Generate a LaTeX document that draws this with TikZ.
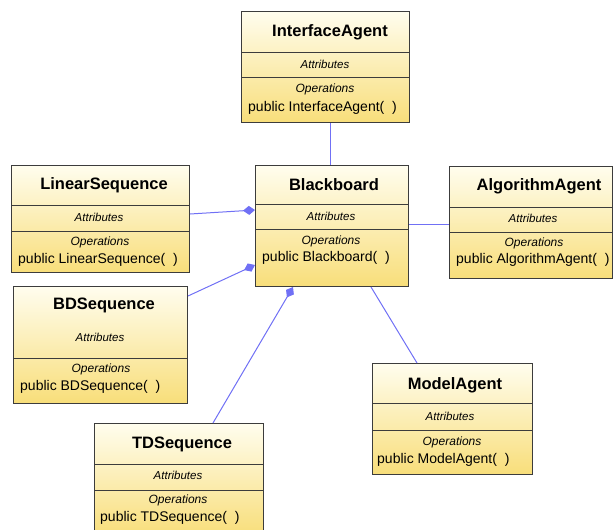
\documentclass[tikz,border=0pt]{standalone}
\usepackage{fontspec}
\setmainfont{Liberation Sans}
\usetikzlibrary{arrows.meta,calc}
\definecolor{lnk}{RGB}{112,112,245}
\definecolor{topc}{RGB}{255,253,238}
\definecolor{botc}{RGB}{248,222,122}
\definecolor{edge}{RGB}{60,60,60}
\tikzset{
  clsbox/.style={draw=edge, line width=1pt, top color=topc, bottom color=botc, inner sep=0pt, anchor=north west},
  divline/.style={draw=edge, line width=1pt},
  ttl/.style={font=\fontsize{16.5}{17}\selectfont\bfseries, inner sep=0pt},
  attr/.style={font=\fontsize{11.5}{12}\selectfont\itshape, inner sep=0pt},
  ops/.style={font=\fontsize{12}{12}\selectfont\itshape, inner sep=0pt},
  pub/.style={font=\fontsize{14}{14}\selectfont, inner sep=0pt, anchor=west},
  assoc/.style={draw=lnk, line width=1pt},
  agg/.style={assoc, -{Diamond[length=12pt,width=9pt,fill=lnk]}}
}
\begin{document}
\begin{tikzpicture}[x=1pt,y=-1pt]
\useasboundingbox (0,0) rectangle (613,530);
\clip (0,0) rectangle (613,530);
% InterfaceAgent
\node[clsbox, minimum width=168pt, minimum height=111pt] (ia) at (241,11) {};
\draw[divline] (ia.west |- 0,52) -- (ia.east |- 0,52);
\draw[divline] (ia.west |- 0,77) -- (ia.east |- 0,77);
\node[ttl] (iat) at (330,32) {InterfaceAgent};
\node[attr] (iaa) at (325,64) {Attributes};
\node[ops] (iao) at (325,89) {Operations};
\node[pub] (iap) at (248,108) {public InterfaceAgent(\ \ )};
% Blackboard
\node[clsbox, minimum width=153pt, minimum height=121pt] (bb) at (255,165) {};
\draw[divline] (bb.west |- 0,204) -- (bb.east |- 0,204);
\draw[divline] (bb.west |- 0,229) -- (bb.east |- 0,229);
\node[ttl] (bbt) at (334,185) {Blackboard};
\node[attr] (bba) at (331,216) {Attributes};
\node[ops] (bbo) at (331,241) {Operations};
\node[pub] (bbp) at (262,258) {public Blackboard(\ \ )};
% LinearSequence
\node[clsbox, minimum width=178pt, minimum height=107pt] (ls) at (11,165) {};
\draw[divline] (ls.west |- 0,205) -- (ls.east |- 0,205);
\draw[divline] (ls.west |- 0,231) -- (ls.east |- 0,231);
\node[ttl] (lst) at (104,185) {LinearSequence};
\node[attr] (lsa) at (99,217) {Attributes};
\node[ops] (lso) at (100,242) {Operations};
\node[pub] (lsp) at (18,260) {public LinearSequence(\ \ )};
% BDSequence
\node[clsbox, minimum width=174pt, minimum height=117pt] (bd) at (13,286) {};
\draw[divline] (bd.west |- 0,358) -- (bd.east |- 0,358);
\node[ttl] (bdt) at (104,305) {BDSequence};
\node[attr] (bda) at (100,337) {Attributes};
\node[ops] (bdo) at (101,369) {Operations};
\node[pub] (bdp) at (20,387) {public BDSequence(\ \ )};
% AlgorithmAgent
\node[clsbox, minimum width=163pt, minimum height=112pt] (aa) at (449,166) {};
\draw[divline] (aa.west |- 0,207) -- (aa.east |- 0,207);
\draw[divline] (aa.west |- 0,232) -- (aa.east |- 0,232);
\node[ttl] (aat) at (539,186) {AlgorithmAgent};
\node[attr] (aaa) at (533,218) {Attributes};
\node[ops] (aao) at (534,243) {Operations};
\node[pub] (aap) at (456,260) {public AlgorithmAgent(\ \ )};
% ModelAgent
\node[clsbox, minimum width=160pt, minimum height=111pt] (ma) at (372,363) {};
\draw[divline] (ma.west |- 0,403) -- (ma.east |- 0,403);
\draw[divline] (ma.west |- 0,430) -- (ma.east |- 0,430);
\node[ttl] (mat) at (455,385) {ModelAgent};
\node[attr] (maa) at (450,416) {Attributes};
\node[ops] (mao) at (452,442) {Operations};
\node[pub] (map) at (377,460) {public ModelAgent(\ \ )};
% TDSequence
\node[clsbox, minimum width=169pt, minimum height=112pt] (td) at (94,423) {};
\draw[divline] (td.west |- 0,464) -- (td.east |- 0,464);
\draw[divline] (td.west |- 0,490) -- (td.east |- 0,490);
\node[ttl] (tdt) at (182,444) {TDSequence};
\node[attr] (tda) at (178,475) {Attributes};
\node[ops] (tdo) at (178,500) {Operations};
\node[pub] (tdp) at (100,518) {public TDSequence(\ \ )};
% connectors
\draw[assoc] ($(ia.south west)+(89,0)$) -- ($(bb.north west)+(75,0)$);
\draw[agg] ($(ls.north east)+(0,49)$) -- ($(bb.north west)+(0,45)$);
\draw[agg] ($(bd.north east)+(0,10)$) -- ($(bb.north west)+(0,100)$);
\draw[agg] ($(td.north west)+(119,0)$) -- ($(bb.south west)+(38,0)$);
\draw[assoc] ($(bb.north east)+(0,59)$) -- ($(aa.north west)+(0,58)$);
\draw[assoc] ($(bb.south west)+(116,0)$) -- ($(ma.north west)+(45,0)$);
\end{tikzpicture}
\end{document}
